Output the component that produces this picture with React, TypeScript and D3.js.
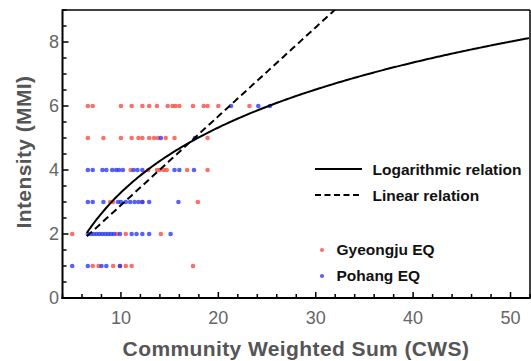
import React from "react";
import * as d3 from "d3";

const W = 531;
const H = 361;

// Gyeongju EQ (red) points: CWS and MMI
const gyeongjuCWS = [
  6.6, 7.1, 10.0, 11.1, 12.2, 12.9, 13.7, 14.8, 15.3, 15.6, 16.0, 17.4, 18.5, 18.9, 20.0, 23.2,
  6.6, 8.2, 10.0, 11.1, 11.8, 12.2, 12.9, 13.4, 13.8, 14.6, 15.5, 18.9,
  11.0, 12.8, 13.7, 14.0, 14.4, 14.7, 16.8, 18.9,
  8.9, 9.2, 12.2, 17.9,
  5.0, 9.6, 10.5, 14.1,
  7.1, 7.7, 9.2, 9.9, 10.5, 11.1, 17.4,
];
const gyeongjuMMI = [
  6, 6, 6, 6, 6, 6, 6, 6, 6, 6, 6, 6, 6, 6, 6, 6,
  5, 5, 5, 5, 5, 5, 5, 5, 5, 5, 5, 5,
  4, 4, 4, 4, 4, 4, 4, 4,
  3, 3, 3, 3,
  2, 2, 2, 2,
  1, 1, 1, 1, 1, 1, 1,
];

// Pohang EQ (blue) points
const pohangCWS = [
  21.3, 24.1, 25.3,
  14.1, 17.6,
  6.6, 7.1, 8.1, 8.5, 9.1, 9.5, 9.8, 10.2, 11.3, 11.7, 12.2, 15.5, 16.0, 17.5,
  6.6, 7.1, 8.2, 9.7, 10.0, 10.5, 10.95, 11.4, 11.8, 12.2, 12.9, 15.9,
  6.6, 6.9, 7.2, 7.5, 7.8, 8.1, 8.4, 8.7, 9.0, 9.3, 9.9, 11.1, 11.6, 12.2, 12.9, 15.1,
  5.0, 6.6, 8.0, 8.5, 9.9,
];
const pohangMMI = [
  6, 6, 6,
  5, 5,
  4, 4, 4, 4, 4, 4, 4, 4, 4, 4, 4, 4, 4, 4,
  3, 3, 3, 3, 3, 3, 3, 3, 3, 3, 3, 3,
  2, 2, 2, 2, 2, 2, 2, 2, 2, 2, 2, 2, 2, 2, 2, 2,
  1, 1, 1, 1, 1,
];

// Fitted relations
const logA = -3.45;
const logB = 2.93;
const linA = 0.12;
const linB = 0.278;
const fitStart = 6.5;
const fitEnd = 52;

const xDomain = [4, 52];
const yDomain = [0, 9];
const xMajorTicks = [10, 20, 30, 40, 50];
const yMajorTicks = [0, 2, 4, 6, 8];

const legendLines = ["Logarithmic relation", "Linear relation"];
const legendDots = ["Gyeongju EQ", "Pohang EQ"];

const RED = "#f2443a";
const BLUE = "#1f2ff0";

export default function App() {
  const left = 62.5;
  const right = 530;
  const top = 10;
  const bottom = 298;
  const x = d3.scaleLinear().domain(xDomain).range([left, right]);
  const y = d3.scaleLinear().domain(yDomain).range([bottom, top]);

  const xMinor = d3.range(4, 52.01, 2).filter((v) => !xMajorTicks.includes(v));
  const yMinor = d3.range(0, 9.01, 0.5).filter((v) => !yMajorTicks.includes(v));

  const sample = d3.range(fitStart, fitEnd + 0.001, 0.2);
  const logLine = d3
    .line<number>()
    .x((d) => x(d))
    .y((d) => y(logA + logB * Math.log(d)))(sample) as string;
  const linLine = d3
    .line<number>()
    .x((d) => x(d))
    .y((d) => y(linA + linB * d))(sample) as string;

  const font = "'Liberation Sans', Arial, Helvetica, sans-serif";

  return (
    <svg
      width={W}
      height={H}
      style={{ position: "absolute", left: 0, top: 0, background: "#fff" }}
      fontFamily={font}
    >
      <defs>
        <clipPath id="plot">
          <rect x={left} y={top} width={right - left} height={bottom - top} />
        </clipPath>
      </defs>
      <rect x={0} y={0} width={W} height={H} fill="#fff" />

      {/* points */}
      <g clipPath="url(#plot)">
        {gyeongjuCWS.map((v, i) => (
          <circle key={"g" + i} cx={x(v)} cy={y(gyeongjuMMI[i])} r={2.3} fill={RED} fillOpacity={0.75} />
        ))}
        {pohangCWS.map((v, i) => (
          <circle key={"p" + i} cx={x(v)} cy={y(pohangMMI[i])} r={2.3} fill={BLUE} fillOpacity={0.75} />
        ))}
        <path d={linLine} fill="none" stroke="#000" strokeWidth={2} strokeDasharray="7,4" />
        <path d={logLine} fill="none" stroke="#000" strokeWidth={2} />
      </g>

      {/* frame */}
      <line x1={left} x2={right} y1={top} y2={top} stroke="#000" strokeWidth={1.5} />
      <line x1={right} x2={right} y1={top} y2={bottom} stroke="#000" strokeWidth={1.5} />
      <line x1={left} x2={left} y1={top - 0.75} y2={bottom + 1} stroke="#000" strokeWidth={2} />
      <line x1={left - 1} x2={right + 0.75} y1={bottom} y2={bottom} stroke="#000" strokeWidth={2} />

      {/* x ticks */}
      {xMajorTicks.map((t) => (
        <g key={"xt" + t}>
          <line x1={x(t)} x2={x(t)} y1={bottom} y2={bottom - 6} stroke="#000" strokeWidth={1.5} />
          <text x={x(t)} y={324} textAnchor="middle" fontSize={18} fill="#666">
            {t}
          </text>
        </g>
      ))}
      {xMinor.map((t) => (
        <line key={"xm" + t} x1={x(t)} x2={x(t)} y1={bottom} y2={bottom - 4} stroke="#000" strokeWidth={1.5} />
      ))}

      {/* y ticks */}
      {yMajorTicks.map((t) => (
        <g key={"yt" + t}>
          <line x1={left} x2={left + 6} y1={y(t)} y2={y(t)} stroke="#000" strokeWidth={1.5} />
          <text x={59} y={y(t) + 6.3} textAnchor="end" fontSize={18} fill="#666">
            {t}
          </text>
        </g>
      ))}
      {yMinor.map((t) => (
        <line key={"ym" + t} x1={left} x2={left + 4} y1={y(t)} y2={y(t)} stroke="#000" strokeWidth={1.5} />
      ))}

      {/* axis titles */}
      <text
        x={296}
        y={356}
        textAnchor="middle"
        fontSize={21}
        fontWeight="bold"
        fill="#555"
        letterSpacing={0.4}
      >
        Community Weighted Sum (CWS)
      </text>
      <text
        transform={`translate(31, 152) rotate(-90)`}
        textAnchor="middle"
        fontSize={21}
        fontWeight="bold"
        fill="#555"
        letterSpacing={0.4}
      >
        Intensity (MMI)
      </text>

      {/* legend */}
      <line x1={315} x2={362} y1={169} y2={169} stroke="#000" strokeWidth={2} />
      <text x={372.5} y={174.5} fontSize={15.5} fontWeight="bold" fill="#111">
        {legendLines[0]}
      </text>
      <line x1={315} x2={361} y1={195} y2={195} stroke="#000" strokeWidth={2} strokeDasharray="6,3.5" />
      <text x={372.5} y={200.5} fontSize={15.5} fontWeight="bold" fill="#111">
        {legendLines[1]}
      </text>
      <circle cx={322} cy={250} r={2.1} fill={RED} fillOpacity={0.75} />
      <text x={336.5} y={255} fontSize={15.5} fontWeight="bold" fill="#111">
        {legendDots[0]}
      </text>
      <circle cx={322} cy={276} r={2.1} fill={BLUE} fillOpacity={0.75} />
      <text x={336.5} y={281} fontSize={15.5} fontWeight="bold" fill="#111">
        {legendDots[1]}
      </text>
    </svg>
  );
}
